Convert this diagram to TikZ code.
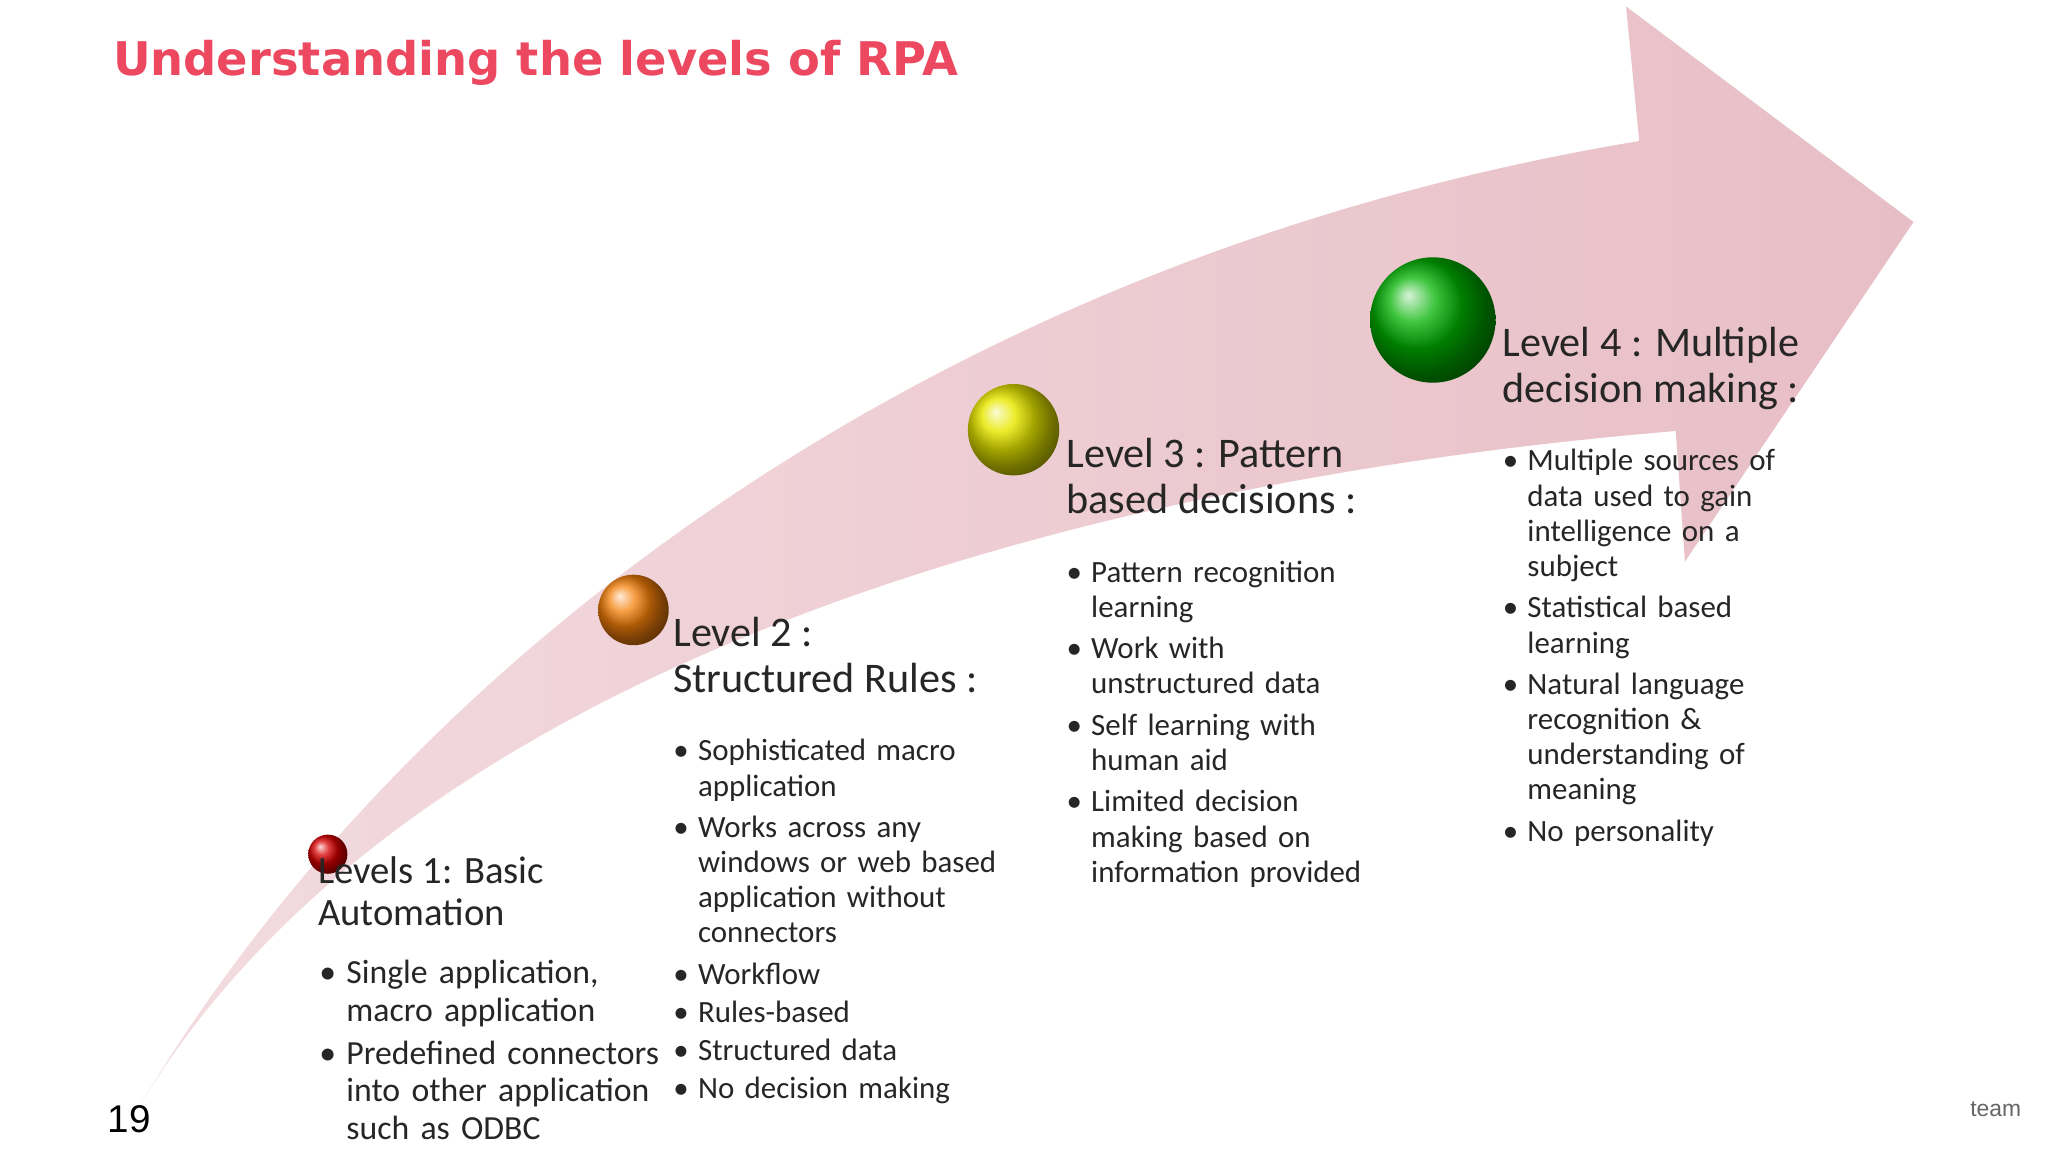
\documentclass[tikz,border=0pt]{standalone}
\usepackage{fontspec}
\setmainfont{Carlito}
\newfontfamily\titlefont{DejaVu Sans}
\newfontfamily\numfont{Liberation Sans}
\newcommand\bi[1]{\par\vspace{0.8pt}\noindent\makebox[0.8em][l]{\textbullet}\begin{tabular}[t]{@{}l@{}}#1\end{tabular}}
\definecolor{titlered}{RGB}{236,72,96}
\definecolor{arrowpink}{RGB}{232,190,198}
\tikzset{
  hd/.style={anchor=north west,align=left,inner sep=0pt,font=\fontsize{12}{13.2}\selectfont,text=black!85},
  bl/.style={anchor=north west,inner sep=0pt,text width=#1,font=\fontsize{8.8}{10}\selectfont,text=black!85},
}
\begin{document}
\begin{tikzpicture}[x=0.01306cm,y=-0.01306cm]
\useasboundingbox (0,0) rectangle (1568,882);
\fill[white] (0,0) rectangle (1568,882);
% arrow
\shade[left color=arrowpink!55,right color=arrowpink,shading angle=90]
  (105,850) .. controls (300,520) and (700,200) .. (1255,108)
  -- (1245,5) -- (1465,170) -- (1290,430) -- (1283,330)
  .. controls (800,370) and (300,520) .. (105,850) -- cycle;
% balls
\shade[ball color=red!85!black] (251,654) circle (15);
\shade[ball color=orange!85!brown] (485,467) circle (27);
\shade[ball color=yellow!80!olive] (776,329) circle (35);
\shade[ball color=green!70!black] (1097,245) circle (48);
\node (title) [anchor=west,inner sep=0pt,font=\titlefont\bfseries\fontsize{13.2}{14}\selectfont,text=titlered] at (86,48) {Understanding the levels of RPA};
% level 1
\node (h1) [hd,font=\fontsize{11}{12}\selectfont] at (243,655) {Levels 1: Basic\\Automation};
\node (b1) [bl=270,font=\fontsize{9.6}{10.6}\selectfont] at (244,722) {\bi{Single application,\\macro application}\bi{Predefined connectors\\into other application\\such as ODBC}};
% level 2
\node (h2) [hd] at (515,472) {Level 2 :\\Structured Rules :};
\node (b2) [bl=300] at (515,553) {\bi{Sophisticated macro\\application}\bi{Works across any\\windows or web based\\application without\\connectors}\bi{Workflow}\bi{Rules-based}\bi{Structured data}\bi{No decision making}};
% level 3
\node (h3) [hd] at (816,335) {Level 3 : Pattern\\based decisions :};
\node (b3) [bl=300] at (816,416) {\bi{Pattern recognition\\learning}\bi{Work with\\unstructured data}\bi{Self learning with\\human aid}\bi{Limited decision\\making based on\\information provided}};
% level 4
\node (h4) [hd] at (1150,250) {Level 4 : Multiple\\decision making :};
\node (b4) [bl=300] at (1150,331) {\bi{Multiple sources of\\data used to gain\\intelligence on a\\subject}\bi{Statistical based\\learning}\bi{Natural language\\recognition \&\\understanding of\\meaning}\bi{No personality}};
\node (pg) [anchor=west,inner sep=0pt,font=\numfont\fontsize{11}{12}\selectfont] at (82,857) {19};
\node (tm) [anchor=east,inner sep=0pt,font=\numfont\fontsize{6.5}{7}\selectfont,text=black!60] at (1548,849) {team};
\end{tikzpicture}
\end{document}
